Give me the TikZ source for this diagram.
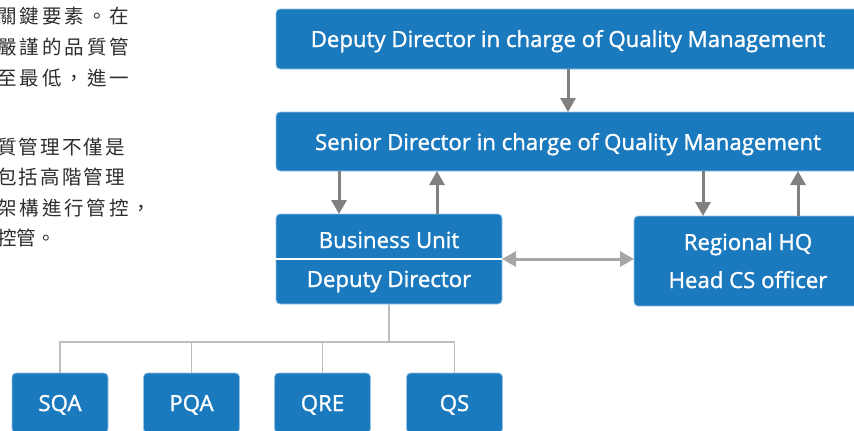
\documentclass[tikz,border=0pt]{standalone}
\usepackage{fontspec}
\setmainfont{Open Sans}
\newfontfamily\boxfont{Open Sans}[FakeBold=1.3]
\newfontfamily\cjk{Noto Sans CJK TC}
\usetikzlibrary{arrows.meta}
\definecolor{boxblue}{RGB}{27,121,190}
\definecolor{boxedge}{RGB}{150,195,230}
\definecolor{arrgray}{RGB}{128,128,128}
\definecolor{dblgray}{RGB}{166,166,166}
\definecolor{treegray}{RGB}{190,190,190}
\definecolor{txtgray}{RGB}{45,45,45}
\tikzset{
  bluebox/.style={draw=boxedge, line width=0.8pt, fill=boxblue, rounded corners=4pt,
    inner sep=0pt, outer sep=0pt},
  boxtext/.style={text=white, font=\boxfont\fontsize{22.2}{26}\selectfont, inner sep=0pt, anchor=base},
  cjkline/.style={text=txtgray, font=\cjk\fontsize{19.5}{23}\selectfont, inner sep=0pt, anchor=west},
  darrow/.style={draw=arrgray, line width=3pt, -{Triangle[width=15pt,length=14pt]}},
  biarrow/.style={draw=dblgray, line width=3pt, {Triangle[width=15pt,length=14pt]}-{Triangle[width=15pt,length=14pt]}},
  treeline/.style={draw=treegray, line width=1.5pt},
}
\begin{document}
\begin{tikzpicture}[x=1pt,y=-1pt]
\useasboundingbox (0,0) rectangle (854,431);
\clip (0,0) rectangle (854,431);

% left Chinese paragraph (cut off at left edge, as in the reference)
\node[cjkline] (t1) at (-3,16) {\makebox[132pt][s]{關\hfil 鍵\hfil 要\hfil 素\hfil 。\hfil 在}};
\node[cjkline] (t2) at (-3,47) {\makebox[132pt][s]{嚴\hfil 謹\hfil 的\hfil 品\hfil 質\hfil 管}};
\node[cjkline] (t3) at (-3,78) {\makebox[132pt][s]{至\hfil 最\hfil 低\hfil ，\hfil 進\hfil 一}};
\node[cjkline] (t5) at (-3,147) {\makebox[128pt][s]{質\hfil 管\hfil 理\hfil 不\hfil 僅\hfil 是}};
\node[cjkline] (t6) at (-3,177) {\makebox[128pt][s]{包\hfil 括\hfil 高\hfil 階\hfil 管\hfil 理}};
\node[cjkline] (t7) at (-3,208) {\makebox[154pt][s]{架\hfil 構\hfil 進\hfil 行\hfil 管\hfil 控\hfil ，}};
\node[cjkline] (t8) at (-3,238) {控管。};

% boxes
\node[bluebox, minimum width=584pt, minimum height=60pt] (dd) at (568,39) {};
\node[boxtext] (ddt) at (568,47) {Deputy Director in charge of Quality Management};
\node[bluebox, minimum width=584pt, minimum height=59pt] (sd) at (568,141.5) {};
\node[boxtext] (sdt) at (568,150) {Senior Director in charge of Quality Management};

\node[bluebox, minimum width=226pt, minimum height=90pt] (bu) at (389,259) {};
\node[boxtext] (bu1) at (389,248) {Business Unit};
\node[boxtext] (bu2) at (389,287) {Deputy Director};
\draw[white, line width=1.2pt] (bu.west) -- (bu.east);

\node[bluebox, minimum width=228pt, minimum height=90pt] (hq) at (748,261) {};
\node[boxtext] (hq1) at (748,250) {Regional HQ};
\node[boxtext] (hq2) at (748,288) {Head CS officer};

\node[bluebox, minimum width=96pt, minimum height=60pt] (sqa) at (60,403) {};
\node[bluebox, minimum width=96pt, minimum height=60pt] (pqa) at (191.5,403) {};
\node[bluebox, minimum width=96pt, minimum height=60pt] (qre) at (322.5,403) {};
\node[bluebox, minimum width=96pt, minimum height=60pt] (qs) at (454.5,403) {};
\node[boxtext] at (60,411) {SQA};
\node[boxtext] at (191.5,411) {PQA};
\node[boxtext] at (322.5,411) {QRE};
\node[boxtext] at (454.5,411) {QS};

% connectors
\draw[darrow] (dd.south) -- (sd.north);
\draw[darrow] ([xshift=-50pt]bu.north |- sd.south) -- ([xshift=-50pt]bu.north);
\draw[darrow] ([xshift=48pt]bu.north) -- ([xshift=48pt]bu.north |- sd.south);
\draw[darrow] ([xshift=-45pt]hq.north |- sd.south) -- ([xshift=-45pt]hq.north);
\draw[darrow] ([xshift=50pt]hq.north) -- ([xshift=50pt]hq.north |- sd.south);
\draw[biarrow] (bu.east) -- (bu.east -| hq.west);

\coordinate (jn) at (389,342);
\draw[treeline] (bu.south) -- (jn);
\draw[treeline] (sqa.north) |- (jn) -| (qs.north);
\draw[treeline] (pqa.north) -- (pqa.north |- jn);
\draw[treeline] (qre.north) -- (qre.north |- jn);
\end{tikzpicture}
\end{document}
